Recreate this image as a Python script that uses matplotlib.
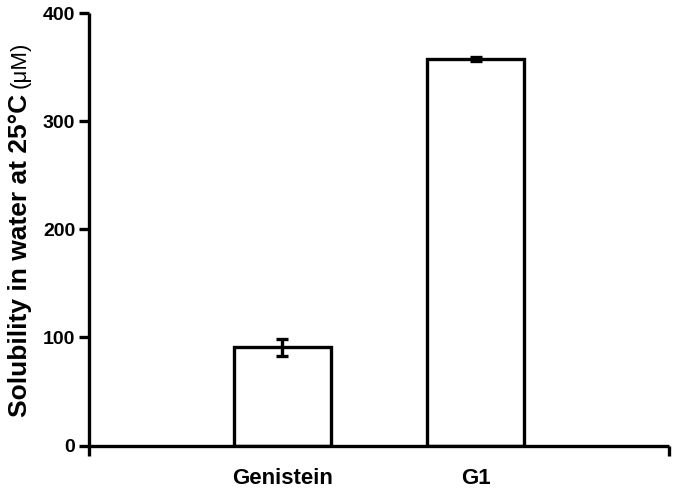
import matplotlib
matplotlib.use("Agg")
import matplotlib.pyplot as plt
from matplotlib.ticker import FixedLocator

plt.rcParams['font.family'] = ['Liberation Sans', 'DejaVu Sans']

categories = ['Genistein', 'G1']
values = [91, 358]
errors = [8, 2]
yticks = [0, 100, 200, 300, 400]

lw = 2.4
fig = plt.figure(figsize=(6.75, 4.92), dpi=100)
ax = fig.add_axes([0.1319, 0.0945, 0.991 - 0.1319, 0.9726 - 0.0945])

xpos = [1, 2]
ax.bar(xpos, values, width=0.5, color='white', edgecolor='black', linewidth=lw, zorder=2)
ax.errorbar(xpos, values, yerr=errors, fmt='none', ecolor='black', elinewidth=lw,
            capsize=4, capthick=lw, zorder=3)

ax.set_xlim(0, 3)
ax.set_ylim(0, 400)
ax.set_yticks(yticks)
ax.set_yticklabels([str(t) for t in yticks], fontsize=14, fontweight='bold')
ax.set_xticks(xpos)
ax.set_xticklabels(categories, fontsize=16, fontweight='bold')
ax.xaxis.set_minor_locator(FixedLocator([0, 3]))
ax.tick_params(axis='x', which='major', length=0, pad=16)
ax.tick_params(axis='x', which='minor', length=7, width=lw, direction='out')
ax.tick_params(axis='y', length=7, width=lw, direction='out', pad=3)

for s in ['top', 'right']:
    ax.spines[s].set_visible(False)
for s in ['left', 'bottom']:
    ax.spines[s].set_linewidth(lw)
    ax.spines[s].set_capstyle('butt')

# y label: bold part + normal unit
t1 = fig.text(0.03, 0.152, 'Solubility in water at 25°C', rotation=90, fontsize=19,
              fontweight='bold', ha='center', va='bottom')
fig.canvas.draw()
bb = t1.get_window_extent()
top = bb.y1 / fig.bbox.height
fig.text(0.03, top + 0.012, '(μM)', rotation=90, fontsize=16, ha='center', va='bottom')

fig.savefig('out.png', dpi=100)
